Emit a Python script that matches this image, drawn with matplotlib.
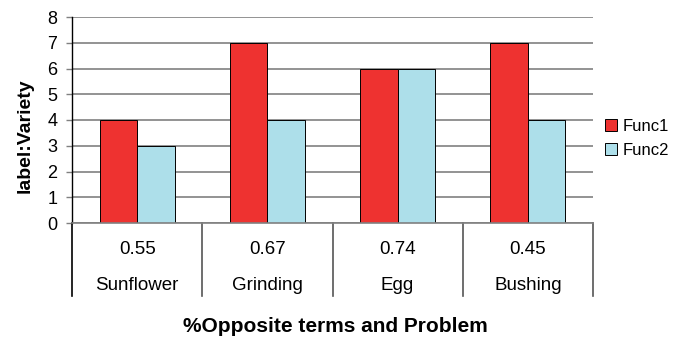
import matplotlib
matplotlib.use("Agg")
import matplotlib.pyplot as plt
import matplotlib.transforms as mtransforms
import numpy as np

plt.rcParams['font.family'] = ['Liberation Sans', 'DejaVu Sans']

# chart data
categories = ['Sunflower', 'Grinding', 'Egg', 'Bushing']
ratios = ['0.55', '0.67', '0.74', '0.45']
func1 = [4, 7, 6, 7]
func2 = [3, 4, 6, 4]
yticks = [0, 1, 2, 3, 4, 5, 6, 7, 8]

fig = plt.figure(figsize=(6.82, 3.42), dpi=100)
ax = fig.add_axes([72 / 682, 119 / 342, 521 / 682, 206 / 342])

x = np.arange(len(categories))
w = 0.288
ax.bar(x - w / 2, func1, w, color='#EE3230', edgecolor='black', linewidth=0.7,
       label='Func1', zorder=3)
ax.bar(x + w / 2, func2, w, color='#ADDFEA', edgecolor='black', linewidth=0.7,
       label='Func2', zorder=3)

ax.set_xlim(-0.5, len(categories) - 0.5)
ax.set_ylim(0, 8)
ax.set_yticks(yticks)
ax.tick_params(axis='y', labelsize=13, length=4.5, width=1, color='#808080', pad=6)
ax.yaxis.grid(True, color='#808080', linewidth=1.2, zorder=0)
ax.set_xticks([])

for side in ['top', 'right', 'bottom']:
    ax.spines[side].set_visible(False)
ax.spines['left'].set_linewidth(1)

# baseline and category dividers below the axis
trans = mtransforms.blended_transform_factory(ax.transData, ax.transAxes)
ax.plot([-0.5, len(categories) - 0.5], [0, 0], color='#808080', lw=1.2,
        transform=trans, clip_on=False, zorder=4)
for b in np.arange(len(categories) + 1) - 0.5:
    ax.plot([b, b], [0, -73 / 206], color='#555555' if b > -0.5 else 'black',
            lw=1.2, transform=trans, clip_on=False)
for i in range(len(categories)):
    ax.text(x[i], -27 / 206, ratios[i], transform=trans, ha='center',
            va='center', fontsize=13.5)
    ax.text(x[i], -63 / 206, categories[i], transform=trans, ha='center',
            va='center', fontsize=13.5)

fig.text(25 / 682, 1 - 136 / 342, 'label:Variety', rotation=90, ha='center',
         va='center', fontsize=14, fontweight='bold')
fig.text(335 / 682, 1 - 327 / 342, '%Opposite terms and Problem',
         ha='center', va='center', fontsize=15, fontweight='bold')

ax.legend(loc='center left', bbox_to_anchor=(1.0, 0.41), frameon=False,
          fontsize=12, handlelength=0.75, handleheight=0.75, handletextpad=0.3,
          labelspacing=0.55, borderaxespad=0.3)

fig.savefig('out.png', dpi=100)
